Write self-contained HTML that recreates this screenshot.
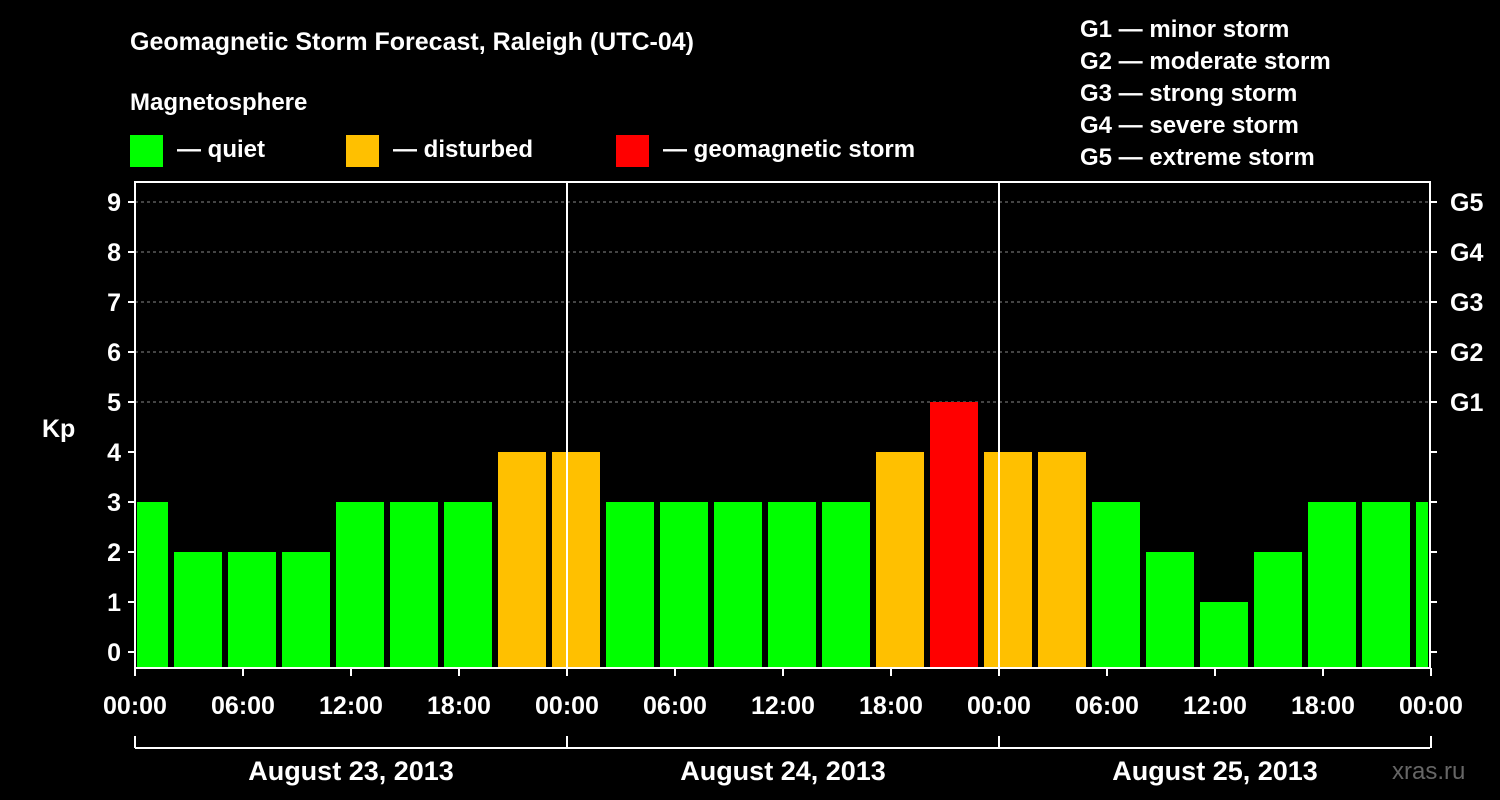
<!DOCTYPE html>
<html><head><meta charset="utf-8"><style>
html,body{margin:0;padding:0;background:#000;}
svg{display:block;font-family:"Liberation Sans",Arial,sans-serif;font-weight:bold;}
</style></head><body>
<svg id="chart" width="1500" height="800" viewBox="0 0 1500 800" xmlns="http://www.w3.org/2000/svg">
<rect width="1500" height="800" fill="#000"/>
<text x="130" y="50" fill="#fff" font-size="25">Geomagnetic Storm Forecast, Raleigh (UTC-04)</text>
<text x="130" y="110" fill="#fff" font-size="24">Magnetosphere</text>
<g><rect x="130" y="135" width="33" height="32" fill="#00ff00"/><text x="177" y="157" fill="#fff" font-size="24">— quiet</text></g>
<g><rect x="346" y="135" width="33" height="32" fill="#ffc000"/><text x="393" y="157" fill="#fff" font-size="24">— disturbed</text></g>
<g><rect x="616" y="135" width="33" height="32" fill="#ff0000"/><text x="663" y="157" fill="#fff" font-size="24">— geomagnetic storm</text></g>
<g fill="#fff" font-size="24">
<text x="1080" y="37">G1 — minor storm</text>
<text x="1080" y="69">G2 — moderate storm</text>
<text x="1080" y="101">G3 — strong storm</text>
<text x="1080" y="133">G4 — severe storm</text>
<text x="1080" y="165">G5 — extreme storm</text>
</g>
<text x="42" y="437" fill="#fff" font-size="25">Kp</text>
<text x="1392" y="779" fill="#666" font-size="24" font-weight="normal">xras.ru</text>
<g id="grid"></g><g id="bars"></g><g id="axes"></g>
</svg>
<script>
const kpValues=[3,2,2,2,3,3,3,4,4,3,3,3,3,3,4,5,4,4,3,2,1,2,3,3,3];
const kpTicks=[0,1,2,3,4,5,6,7,8,9];
const gLabels=["G1","G2","G3","G4","G5"];
const hourLabels=["00:00","06:00","12:00","18:00","00:00","06:00","12:00","18:00","00:00","06:00","12:00","18:00","00:00"];
const dayLabels=["August 23, 2013","August 24, 2013","August 25, 2013"];
const NS="http://www.w3.org/2000/svg";
const L=135,R=1430,T=182,B=668;
const x=h=>L+h*18;
const y=k=>652-k*50;
function mk(tag,attrs,parent,txt){const e=document.createElementNS(NS,tag);for(const k in attrs)e.setAttribute(k,attrs[k]);if(txt!==undefined)e.textContent=txt;document.getElementById(parent).appendChild(e);return e;}
const color=v=>v>=5?"#ff0000":(v>=4?"#ffc000":"#00ff00");
// grid
kpTicks.filter(k=>k>=5).forEach(k=>{const e=mk("line",{x1:L,x2:R,y1:y(k),y2:y(k),stroke:"#888","stroke-dasharray":"3,3","stroke-width":1},"grid");

});
// bars
kpValues.forEach((v,i)=>{const c=0.5+3*i;let x0=x(c)-24,x1=x(c)+24;x0=Math.max(x0,L+2);x1=Math.min(x1,R-2);
const e=mk("rect",{x:x0,y:y(v),width:x1-x0,height:B-y(v),fill:color(v)},"bars");

});
// axes
const f=mk("rect",{x:L,y:T,width:R-L,height:B-T,fill:"none",stroke:"#fff","stroke-width":2},"axes");


[24,48].forEach(h=>{const e=mk("line",{x1:x(h),x2:x(h),y1:T,y2:B,stroke:"#fff","stroke-width":2},"axes");

});
kpTicks.forEach(k=>{mk("line",{x1:L-7,x2:L,y1:y(k),y2:y(k),stroke:"#fff","stroke-width":2},"axes");
mk("line",{x1:R,x2:R+7,y1:y(k),y2:y(k),stroke:"#fff","stroke-width":2},"axes");
const t=mk("text",{x:L-14,y:y(k)+9,fill:"#fff","font-size":25,"text-anchor":"end"},"axes",String(k));


if(k>=5){const g=mk("text",{x:R+20,y:y(k)+9,fill:"#fff","font-size":25},"axes",gLabels[k-5]);

}});
hourLabels.forEach((s,i)=>{const h=i*6;mk("line",{x1:x(h),x2:x(h),y1:B,y2:B+8,stroke:"#fff","stroke-width":2},"axes");
const t=mk("text",{x:x(h),y:714,fill:"#fff","font-size":25,"text-anchor":"middle"},"axes",s);

});
const br=mk("line",{x1:L,x2:R,y1:748,y2:748,stroke:"#fff","stroke-width":2},"axes");


[0,24,48,72].forEach(h=>mk("line",{x1:x(h),x2:x(h),y1:736,y2:748,stroke:"#fff","stroke-width":2},"axes"));
dayLabels.forEach((s,i)=>{const t=mk("text",{x:x(12+24*i),y:780,fill:"#fff","font-size":27,"text-anchor":"middle"},"axes",s);

});
</script>
</body></html>
